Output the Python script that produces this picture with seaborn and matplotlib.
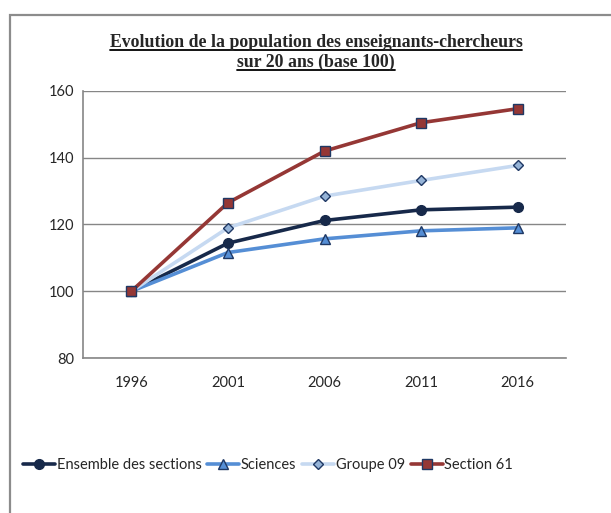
import matplotlib
matplotlib.use("Agg")
import matplotlib.pyplot as plt
import seaborn as sns
from matplotlib.patches import Rectangle
from matplotlib.lines import Line2D

# ---- data ----
years = ["1996", "2001", "2006", "2011", "2016"]
ensemble = [100, 114.4, 121.2, 124.4, 125.2]
sciences = [100, 111.6, 115.7, 118.1, 119.0]
groupe09 = [100, 119.0, 128.5, 133.2, 137.7]
section61 = [100, 126.5, 142.0, 150.5, 154.7]

series_names = ["Ensemble des sections", "Sciences", "Groupe 09", "Section 61"]
series_values = [ensemble, sciences, groupe09, section61]

# ---- styles ----
styles = {
    "Ensemble des sections": dict(color="#17294a", marker="o", mfc="#17294a", mec="#17294a", ms=7),
    "Sciences": dict(color="#558ed5", marker="^", mfc="#558ed5", mec="#1f3864", ms=7.5),
    "Groupe 09": dict(color="#c6d9f1", marker="D", mfc="#95b3d7", mec="#1f3864", ms=5.5),
    "Section 61": dict(color="#953735", marker="s", mfc="#953735", mec="#1f3864", ms=7),
}

sns.set_style("white")
plt.rcParams["font.family"] = ["Lato", "DejaVu Sans"]

fig = plt.figure(figsize=(6.11, 5.13), dpi=100)
ax = fig.add_axes([83 / 611, 1 - 358 / 513, (566 - 83) / 611, (358 - 91) / 513])

xpos = list(range(len(years)))
for name, vals in zip(series_names, series_values):
    st = styles[name]
    sns.lineplot(x=xpos, y=vals, ax=ax, color=st["color"], linewidth=2.6,
                 marker=st["marker"], markersize=st["ms"],
                 markerfacecolor=st["mfc"], markeredgecolor=st["mec"],
                 markeredgewidth=1.0, label=name, zorder=3)

# axes look (Excel style)
grey = "#868686"
ax.set_xlim(-0.5, 4.5)
ax.set_ylim(80, 160)
ax.set_yticks([80, 100, 120, 140, 160])
ax.set_xticks(xpos)
ax.set_xticklabels(years)
ax.set_xticks([i - 0.5 for i in range(len(years) + 1)], minor=True)
ax.tick_params(axis="x", which="major", length=0, pad=13, labelsize=10.5)
ax.tick_params(axis="x", which="minor", length=5, color=grey, width=1, direction="out")
ax.tick_params(axis="y", length=3, color=grey, width=1, direction="out", pad=3, labelsize=10.5)
ax.grid(axis="y", color=grey, linewidth=1)
ax.set_axisbelow(True)
for side in ["top", "right"]:
    ax.spines[side].set_visible(False)
for side in ["left", "bottom"]:
    ax.spines[side].set_color(grey)
    ax.spines[side].set_linewidth(1.2)
ax.set_xlabel("")
ax.set_ylabel("")

# legend
handles, labels = ax.get_legend_handles_labels()
ax.legend_.remove()
fig.legend(handles, labels, loc="center", bbox_to_anchor=(268 / 611, 1 - 465 / 513),
           ncol=4, frameon=False, fontsize=10.5, handlelength=2.2,
           handletextpad=0.1, columnspacing=0.4, borderaxespad=0)

# outer chart frame (cut off at right and bottom)
fig.patches.append(Rectangle((10 / 611, -0.1), 1.0, 1 - 15 / 513 + 0.1,
                             transform=fig.transFigure, fill=False,
                             edgecolor="#8c8c8c", linewidth=1.6))

# underlined title
t1 = fig.text(316 / 611, 1 - 43 / 513, "Evolution de la population des enseignants-chercheurs",
              ha="center", va="center", fontsize=12.8, fontweight="bold",
              family="Liberation Serif")
t2 = fig.text(316 / 611, 1 - 62 / 513, "sur 20 ans (base 100)",
              ha="center", va="center", fontsize=12.8, fontweight="bold",
              family="Liberation Serif")
fig.canvas.draw()
renderer = fig.canvas.get_renderer()
inv = fig.transFigure.inverted()
for t in (t1, t2):
    bb = t.get_window_extent(renderer)
    (x0, y0), (x1, y1) = inv.transform([(bb.x0, bb.y0), (bb.x1, bb.y1)])
    yl = y0 + 1.0 / 513
    fig.add_artist(Line2D([x0, x1], [yl, yl], transform=fig.transFigure,
                          color="black", linewidth=1.3))

fig.savefig("out.png", dpi=100)
